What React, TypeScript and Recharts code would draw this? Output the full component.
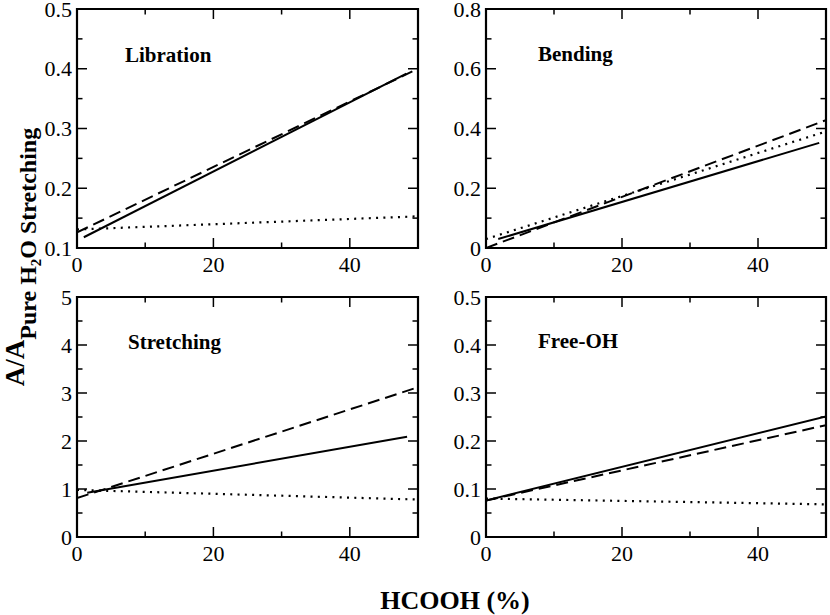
import React from 'react';
import { LineChart, Line, XAxis, YAxis, ReferenceArea } from 'recharts';

// ---------- data ----------
const xTicks = [0, 10, 20, 30, 40, 50];
const xLabeled = [0, 20, 40];

const librationYTicks = [0.1, 0.15, 0.2, 0.25, 0.3, 0.35, 0.4, 0.45, 0.5];
const librationYLabeled = [0.1, 0.2, 0.3, 0.4, 0.5];
const bendingYTicks = [0, 0.1, 0.2, 0.3, 0.4, 0.5, 0.6, 0.7, 0.8];
const bendingYLabeled = [0, 0.2, 0.4, 0.6, 0.8];
const stretchingYTicks = [0, 0.5, 1, 1.5, 2, 2.5, 3, 3.5, 4, 4.5, 5];
const stretchingYLabeled = [0, 1, 2, 3, 4, 5];
const freeOHYTicks = [0, 0.05, 0.1, 0.15, 0.2, 0.25, 0.3, 0.35, 0.4, 0.45, 0.5];
const freeOHYLabeled = [0, 0.1, 0.2, 0.3, 0.4, 0.5];

const librationSolid = [{ x: 1, y: 0.118 }, { x: 48.3, y: 0.392 }];
const librationDashed = [{ x: 0, y: 0.126 }, { x: 50, y: 0.4 }];
const librationDotted = [{ x: 0, y: 0.131 }, { x: 50, y: 0.153 }];

const bendingSolid = [{ x: 1.8, y: 0.03 }, { x: 49, y: 0.352 }];
const bendingDashed = [{ x: 0, y: 0.0 }, { x: 50, y: 0.428 }];
const bendingDotted = [{ x: 0, y: 0.03 }, { x: 50, y: 0.39 }];

const stretchingSolid = [{ x: 1.5, y: 0.92 }, { x: 48.4, y: 2.09 }];
const stretchingDashed = [{ x: 0, y: 0.81 }, { x: 50, y: 3.12 }];
const stretchingDotted = [{ x: 0, y: 0.98 }, { x: 50, y: 0.78 }];

const freeOHSolid = [{ x: 0, y: 0.076 }, { x: 50, y: 0.251 }];
const freeOHDashed = [{ x: 0, y: 0.076 }, { x: 50, y: 0.233 }];
const freeOHDotted = [{ x: 0, y: 0.08 }, { x: 50, y: 0.068 }];

// ---------- layout ----------
const SERIF = 'Liberation Serif';
const ML = 10;
const YW = 60;
const MT = 22;
const MR = 4;
const MB = 10;
const XH = 30;

function isIn(v: number, arr: number[]) {
  return arr.some((a) => Math.abs(a - v) < 1e-9);
}
function fmt(v: number) {
  return String(Number(v.toFixed(3)));
}

type Pt = { x: number; y: number };

interface PanelProps {
  L: number;
  T: number;
  R: number;
  B: number;
  domain: [number, number];
  yTicks: number[];
  yLabeled: number[];
  solid: Pt[];
  dashed: Pt[];
  dotted: Pt[];
}

function Panel({ L, T, R, B, domain, yTicks, yLabeled, solid, dashed, dotted }: PanelProps) {
  const pw = R - L;
  const ph = B - T;
  const plotLeft = ML + YW;
  const plotRight = plotLeft + pw;
  const plotTop = MT;
  const plotBottom = MT + ph;
  const width = plotRight + MR;
  const height = plotBottom + XH + MB;

  const XTick = (props: any) => {
    const { x, payload } = props;
    const major = isIn(payload.value, xLabeled);
    const len = major ? 10 : 5.5;
    return (
      <g>
        <line x1={x} x2={x} y1={plotBottom} y2={plotBottom - len} stroke="#000" strokeWidth={1.5} />
        <line x1={x} x2={x} y1={plotTop} y2={plotTop + len} stroke="#000" strokeWidth={1.5} />
        {major && (
          <text x={x} y={plotBottom + 24} textAnchor="middle" fontSize={22} fontFamily={SERIF} fill="#000">
            {fmt(payload.value)}
          </text>
        )}
      </g>
    );
  };

  const YTick = (props: any) => {
    const { y, payload } = props;
    const major = isIn(payload.value, yLabeled);
    const len = major ? 10 : 5.5;
    return (
      <g>
        <line x1={plotLeft} x2={plotLeft + len} y1={y} y2={y} stroke="#000" strokeWidth={1.5} />
        <line x1={plotRight} x2={plotRight - len} y1={y} y2={y} stroke="#000" strokeWidth={1.5} />
        {major && (
          <text x={plotLeft - 5} y={y} dy="0.35em" textAnchor="end" fontSize={22} fontFamily={SERIF} fill="#000">
            {fmt(payload.value)}
          </text>
        )}
      </g>
    );
  };

  return (
    <div style={{ position: 'absolute', left: L - plotLeft, top: T - plotTop, width, height }}>
      <LineChart width={width} height={height} margin={{ top: MT, left: ML, right: MR, bottom: MB }}>
        <XAxis
          type="number"
          dataKey="x"
          domain={[0, 50]}
          ticks={xTicks}
          interval={0}
          allowDataOverflow
          axisLine={false}
          tickLine={false}
          tickSize={0}
          tickMargin={0}
          height={XH}
          tick={XTick}
        />
        <YAxis
          type="number"
          dataKey="y"
          domain={domain}
          ticks={yTicks}
          interval={0}
          allowDataOverflow
          axisLine={false}
          tickLine={false}
          tickSize={0}
          tickMargin={0}
          width={YW}
          tick={YTick}
        />
        <Line data={dotted} dataKey="y" type="linear" stroke="#000" strokeWidth={2.2} strokeDasharray="2 5.3" dot={false} isAnimationActive={false} />
        <Line data={dashed} dataKey="y" type="linear" stroke="#000" strokeWidth={2} strokeDasharray="12 6" dot={false} isAnimationActive={false} />
        <Line data={solid} dataKey="y" type="linear" stroke="#000" strokeWidth={2} dot={false} isAnimationActive={false} />
        <ReferenceArea x1={0} x2={50} y1={domain[0]} y2={domain[1]} fill="none" fillOpacity={0} stroke="#000" strokeWidth={2.2} ifOverflow="visible" />
      </LineChart>
    </div>
  );
}

export default function App() {
  return (
    <div style={{ position: 'absolute', left: 0, top: 0, width: 830, height: 615, overflow: 'hidden', background: '#fff', fontFamily: SERIF }}>
      <Panel L={77} T={9} R={418} B={248} domain={[0.1, 0.5]} yTicks={librationYTicks} yLabeled={librationYLabeled}
        solid={librationSolid} dashed={librationDashed} dotted={librationDotted} />
      <Panel L={486} T={9} R={826} B={248} domain={[0, 0.8]} yTicks={bendingYTicks} yLabeled={bendingYLabeled}
        solid={bendingSolid} dashed={bendingDashed} dotted={bendingDotted} />
      <Panel L={77} T={297} R={418} B={537} domain={[0, 5]} yTicks={stretchingYTicks} yLabeled={stretchingYLabeled}
        solid={stretchingSolid} dashed={stretchingDashed} dotted={stretchingDotted} />
      <Panel L={486} T={297} R={826} B={537} domain={[0, 0.5]} yTicks={freeOHYTicks} yLabeled={freeOHYLabeled}
        solid={freeOHSolid} dashed={freeOHDashed} dotted={freeOHDotted} />
      <svg width={830} height={615} style={{ position: 'absolute', left: 0, top: 0, pointerEvents: 'none' }}>
        <g fontWeight="bold" fill="#000" fontFamily={SERIF}>
          <text x={125} y={62} fontSize={21}>Libration</text>
          <text x={538} y={61} fontSize={21}>Bending</text>
          <text x={128} y={349} fontSize={21}>Stretching</text>
          <text x={538} y={348} fontSize={21}>Free-OH</text>
          <text x={455} y={609} fontSize={26} textAnchor="middle">HCOOH (%)</text>
          <text transform="translate(24,257) rotate(-90)" textAnchor="middle">
            <tspan fontSize={27}>A/A</tspan>
            <tspan fontSize={24} dy={12}>Pure H</tspan>
            <tspan fontSize={15} dy={5}>2</tspan>
            <tspan fontSize={24} dy={-5}>O Stretching</tspan>
          </text>
        </g>
      </svg>
    </div>
  );
}
